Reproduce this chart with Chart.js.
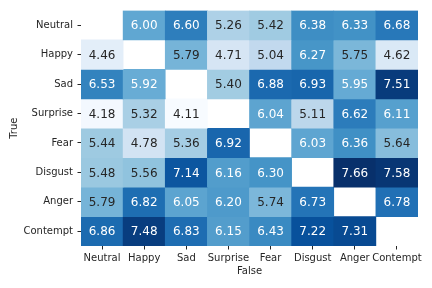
<!DOCTYPE html>
<html>
<head>
<meta charset="utf-8">
<script src="https://cdn.jsdelivr.net/npm/chart.js@4"></script>
<style>
  html, body { margin: 0; padding: 0; background: #fff; }
  #wrap { width: 432px; height: 288px; }
</style>
</head>
<body>
<div id="wrap"><canvas id="myChart"></canvas></div>
<script>
// Data
const trueLabels = ['Neutral', 'Happy', 'Sad', 'Surprise', 'Fear', 'Disgust', 'Anger', 'Contempt'];
const falseLabels = ['Neutral', 'Happy', 'Sad', 'Surprise', 'Fear', 'Disgust', 'Anger', 'Contempt'];
const rowNeutral  = [null, 6.00, 6.60, 5.26, 5.42, 6.38, 6.33, 6.68];
const rowHappy    = [4.46, null, 5.79, 4.71, 5.04, 6.27, 5.75, 4.62];
const rowSad      = [6.53, 5.92, null, 5.40, 6.88, 6.93, 5.95, 7.51];
const rowSurprise = [4.18, 5.32, 4.11, null, 6.04, 5.11, 6.62, 6.11];
const rowFear     = [5.44, 4.78, 5.36, 6.92, null, 6.03, 6.36, 5.64];
const rowDisgust  = [5.48, 5.56, 7.14, 6.16, 6.30, null, 7.66, 7.58];
const rowAnger    = [5.79, 6.82, 6.05, 6.20, 5.74, 6.73, null, 6.78];
const rowContempt = [6.86, 7.48, 6.83, 6.15, 6.43, 7.22, 7.31, null];
const rows = [rowNeutral, rowHappy, rowSad, rowSurprise, rowFear, rowDisgust, rowAnger, rowContempt];

// Blues colormap
const blues = [
    [247, 251, 255], [222, 235, 247], [198, 219, 239], [158, 202, 225],
    [107, 174, 214], [66, 146, 198], [33, 113, 181], [8, 81, 156], [8, 48, 107]
];
const allVals = rows.flat().filter(v => v !== null);
const vmin = Math.min(...allVals);
const vmax = Math.max(...allVals);

function bluesRgb(v) {
    let t = (v - vmin) / (vmax - vmin);
    t = Math.max(0, Math.min(1, t)) * (blues.length - 1);
    const i = Math.min(Math.floor(t), blues.length - 2);
    const f = t - i;
    return blues[i].map((c, k) => Math.round(c + (blues[i + 1][k] - c) * f));
}

function textColor(rgb) {
    const lin = rgb.map(c => {
        c = c / 255;
        return c <= 0.03928 ? c / 12.92 : Math.pow((c + 0.055) / 1.055, 2.4);
    });
    const lum = 0.2126 * lin[0] + 0.7152 * lin[1] + 0.0722 * lin[2];
    return lum > 0.408 ? '#262626' : '#ffffff';
}

const datasets = rows.map((row, r) => ({
    label: trueLabels[r],
    data: row.map(v => v === null ? null : [r, r + 1]),
    values: row,
    backgroundColor: row.map(v => v === null ? 'rgba(0,0,0,0)' : 'rgb(' + bluesRgb(v).join(',') + ')'),
    borderWidth: 0,
    barPercentage: 1,
    categoryPercentage: 1,
    grouped: false
}));

// Cell annotations
const annotate = {
    id: 'annotate',
    afterDatasetsDraw(chart) {
        const ctx = chart.ctx;
        ctx.save();
        ctx.font = '12px "DejaVu Sans"';
        ctx.textAlign = 'center';
        ctx.textBaseline = 'middle';
        chart.data.datasets.forEach((ds, i) => {
            chart.getDatasetMeta(i).data.forEach((bar, j) => {
                const v = ds.values[j];
                if (v === null) return;
                const p = bar.getProps(['x', 'y', 'base'], true);
                ctx.fillStyle = textColor(bluesRgb(v));
                ctx.fillText(v.toFixed(2), p.x, (p.y + p.base) / 2 + 1);
            });
        });
        ctx.restore();
    }
};

const tickFont = { family: 'DejaVu Sans', size: 10 };
const dark = '#262626';

new Chart(document.getElementById('myChart').getContext('2d'), {
    type: 'bar',
    data: { labels: falseLabels, datasets: datasets },
    options: {
        responsive: true,
        maintainAspectRatio: false,
        animation: false,
        layout: { padding: { left: 0, top: 10, right: 14, bottom: 0 } },
        plugins: { legend: { display: false }, tooltip: { enabled: false } },
        scales: {
            x: {
                offset: true,
                grid: { display: true, drawOnChartArea: false, offset: false, tickLength: 3.5, tickColor: dark, tickWidth: 1 },
                border: { display: false },
                ticks: { color: dark, font: tickFont, padding: 3, maxRotation: 0, autoSkip: false },
                title: { display: true, text: 'False', color: dark, font: tickFont, padding: { top: 0, bottom: 11 } },
                afterFit(scale) { scale.height = 42; }
            },
            y: {
                type: 'linear',
                min: 0,
                max: 8,
                reverse: true,
                grid: { display: true, drawOnChartArea: false, tickLength: 3.5, tickColor: dark, tickWidth: 1 },
                border: { display: false },
                afterBuildTicks(scale) {
                    scale.ticks = trueLabels.map((_, i) => ({ value: i + 0.5 }));
                },
                ticks: {
                    color: dark,
                    font: tickFont,
                    padding: 4.5,
                    autoSkip: false,
                    callback: (value, index) => trueLabels[index]
                },
                title: { display: true, text: 'True', color: dark, font: tickFont, padding: { top: 8, bottom: 0 } },
                afterFit(scale) { scale.width = 81; }
            }
        }
    },
    plugins: [annotate]
});
</script>
</body>
</html>
